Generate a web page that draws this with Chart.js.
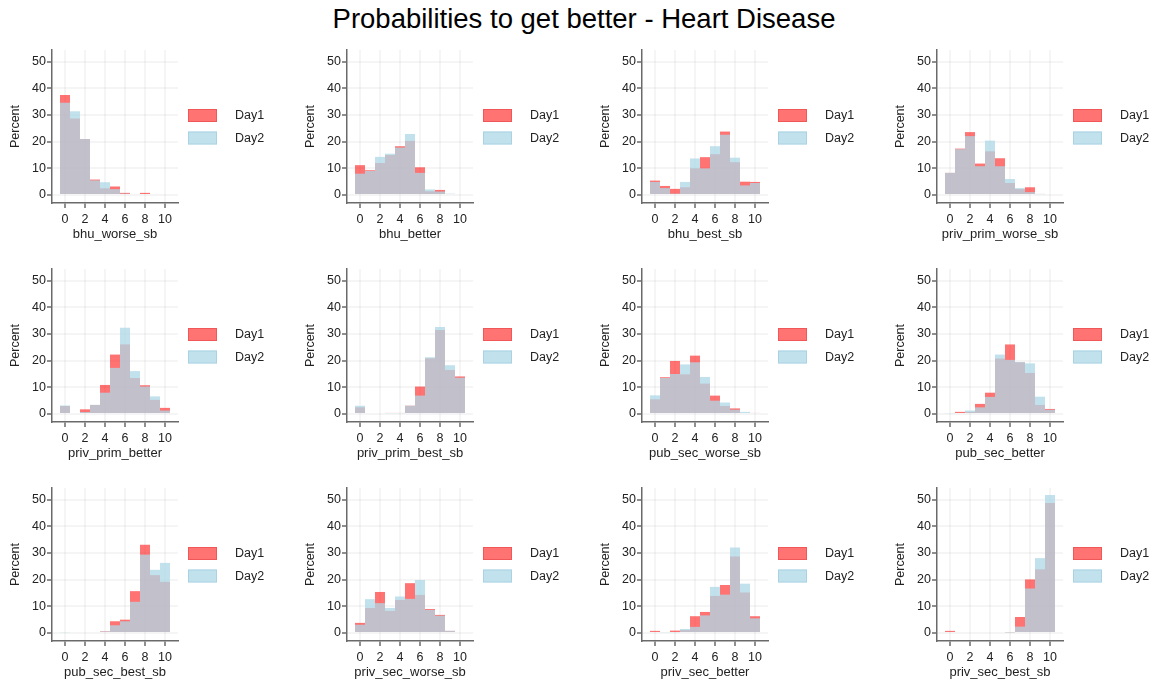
<!DOCTYPE html>
<html>
<head>
<meta charset="utf-8">
<title>Probabilities to get better - Heart Disease</title>
<script src="https://cdn.jsdelivr.net/npm/chart.js@4.4.1/dist/chart.umd.min.js"></script>
<style>
  body { margin: 0; background: #fff; width: 1154px; height: 684px; overflow: hidden; position: relative;
         font-family: "Liberation Sans", Arial, sans-serif; }
  #title { position: absolute; left: 0; top: 3px; width: 1168px; text-align: center; font-size: 27.5px; color: #000; }
  .panel { position: absolute; }
</style>
</head>
<body>
<div id="title">Probabilities to get better - Heart Disease</div>
<script>
// score bins 0..10, percent of respondents per bin
var scores = [0, 1, 2, 3, 4, 5, 6, 7, 8, 9, 10];
var yTicks = [0, 10, 20, 30, 40, 50];
var xTicks = [0, 2, 4, 6, 8, 10];
var seriesNames = ['Day1', 'Day2'];

var bhu_worse_sb_d1 = [37.5, 28.7, 21.0, 5.8, 2.5, 3.2, 0.8, 0, 0.8, 0, 0];
var bhu_worse_sb_d2 = [34.6, 31.4, 21.0, 5.5, 4.8, 2.2, 0.5, 0.4, 0, 0, 0];

var bhu_better_d1 = [11.2, 9.3, 12.0, 15.0, 18.3, 20.3, 10.4, 1.4, 1.9, 0, 0];
var bhu_better_d2 = [8.0, 9.0, 14.3, 15.5, 17.8, 22.9, 8.3, 2.1, 1.3, 0.5, 0];

var bhu_best_sb_d1 = [5.4, 3.4, 2.3, 2.9, 10.0, 14.2, 15.3, 23.8, 12.3, 5.0, 4.9];
var bhu_best_sb_d2 = [4.9, 2.6, 0.5, 4.9, 13.7, 10.0, 18.3, 22.6, 14.0, 3.6, 4.5];

var priv_prim_worse_sb_d1 = [8.3, 17.4, 23.6, 11.8, 16.4, 13.8, 4.5, 2.2, 2.9, 0.4, 0];
var priv_prim_worse_sb_d2 = [8.3, 17.2, 22.1, 10.8, 20.4, 10.8, 6.0, 2.6, 1.1, 0.3, 0];

var priv_prim_better_d1 = [3.0, 0, 1.75, 3.4, 10.9, 22.3, 26.1, 13.5, 10.8, 5.3, 2.3];
var priv_prim_better_d2 = [3.2, 0, 0.75, 3.4, 8.0, 17.3, 32.4, 16.1, 10.3, 6.6, 1.3];

var priv_prim_best_sb_d1 = [2.5, 0, 0, 0.4, 0.4, 3.1, 10.3, 20.9, 31.5, 16.5, 14.1];
var priv_prim_best_sb_d2 = [3.1, 0, 0, 0.3, 0.3, 3.1, 6.9, 21.3, 32.6, 18.3, 13.6];

var pub_sec_worse_sb_d1 = [5.5, 13.8, 19.9, 14.9, 21.9, 11.4, 6.9, 3.0, 2.1, 0, 0.4];
var pub_sec_worse_sb_d2 = [7.0, 13.5, 15.0, 18.6, 19.4, 13.9, 5.0, 4.3, 1.6, 0.8, 0];

var pub_sec_better_d1 = [0, 0.8, 0.8, 3.8, 8.0, 20.8, 26.1, 19.4, 15.4, 3.4, 1.9];
var pub_sec_better_d2 = [0.3, 0, 1.3, 2.5, 6.4, 22.3, 20.3, 19.5, 19.0, 6.5, 1.6];

var pub_sec_best_sb_d1 = [0, 0, 0, 0, 0.6, 4.4, 5.0, 15.7, 33.1, 21.7, 19.2];
var pub_sec_best_sb_d2 = [0.3, 0, 0, 0, 0.6, 2.9, 4.4, 11.7, 29.4, 23.7, 26.3];

var priv_sec_worse_sb_d1 = [3.8, 9.4, 15.4, 8.3, 12.4, 18.7, 14.3, 9.0, 6.8, 0.8, 0];
var priv_sec_worse_sb_d2 = [3.1, 12.7, 11.2, 9.4, 13.7, 12.8, 19.9, 8.7, 6.5, 0.8, 0];

var priv_sec_better_d1 = [0.8, 0, 0.9, 1.1, 6.3, 7.9, 13.9, 18.0, 28.7, 15.2, 6.3];
var priv_sec_better_d2 = [0.4, 0.3, 0.3, 1.5, 2.3, 6.6, 17.3, 14.4, 32.1, 18.5, 5.5];

var priv_sec_best_sb_d1 = [0.8, 0, 0, 0, 0, 0, 0.3, 6.0, 20.1, 23.9, 48.8];
var priv_sec_best_sb_d2 = [0.4, 0, 0, 0, 0, 0, 0.2, 2.4, 16.7, 28.1, 51.8];

var panels = [
    ['bhu_worse_sb', bhu_worse_sb_d1, bhu_worse_sb_d2],
    ['bhu_better', bhu_better_d1, bhu_better_d2],
    ['bhu_best_sb', bhu_best_sb_d1, bhu_best_sb_d2],
    ['priv_prim_worse_sb', priv_prim_worse_sb_d1, priv_prim_worse_sb_d2],
    ['priv_prim_better', priv_prim_better_d1, priv_prim_better_d2],
    ['priv_prim_best_sb', priv_prim_best_sb_d1, priv_prim_best_sb_d2],
    ['pub_sec_worse_sb', pub_sec_worse_sb_d1, pub_sec_worse_sb_d2],
    ['pub_sec_better', pub_sec_better_d1, pub_sec_better_d2],
    ['pub_sec_best_sb', pub_sec_best_sb_d1, pub_sec_best_sb_d2],
    ['priv_sec_worse_sb', priv_sec_worse_sb_d1, priv_sec_worse_sb_d2],
    ['priv_sec_better', priv_sec_better_d1, priv_sec_better_d2],
    ['priv_sec_best_sb', priv_sec_best_sb_d1, priv_sec_best_sb_d2]
];

var fillColors = ['rgba(255, 0, 0, 0.55)', 'rgba(173, 216, 230, 0.76)'];
var edgeColors = ['rgba(230, 60, 60, 0.5)', 'rgba(160, 205, 222, 0.7)'];
var axisColor = '#6a6a6a';
var textColor = '#222222';
var gridColor = 'rgba(0, 0, 0, 0.04)';

Chart.defaults.font.family = '"Liberation Sans", Arial, sans-serif';
Chart.defaults.animation = false;

// legend drawn to the right of each plot, two stacked keys
var sideLegend = {
    id: 'sideLegend',
    afterDraw: function (chart) {
        var ctx = chart.ctx;
        var area = chart.chartArea;
        var cy = (area.top + area.bottom) / 2;
        var x0 = area.right + 10;
        chart.data.datasets.forEach(function (ds, i) {
            var y = cy - 17.5 + i * 22.5;
            ctx.save();
            ctx.fillStyle = ds.backgroundColor;
            ctx.fillRect(x0, y, 29, 13);
            ctx.strokeStyle = ds.borderColor;
            ctx.lineWidth = 1;
            ctx.strokeRect(x0 + 0.5, y + 0.5, 28, 12);
            ctx.fillStyle = '#222';
            ctx.font = '12.5px "Liberation Sans", Arial, sans-serif';
            ctx.textBaseline = 'middle';
            ctx.fillText(ds.label, x0 + 47, y + 7);
            ctx.restore();
        });
    }
};

function toPoints(values) {
    return scores.map(function (s, i) {
        return {x: s, y: values[i]};
    });
}

panels.forEach(function (p, n) {
    var col = n % 4;
    var row = Math.floor(n / 4);

    var canvas = document.createElement('canvas');
    canvas.className = 'panel';
    canvas.width = 295;
    canvas.height = 215;
    canvas.style.left = (col * 295) + 'px';
    canvas.style.top = (40 + row * 219) + 'px';
    document.body.appendChild(canvas);

    new Chart(canvas.getContext('2d'), {
        type: 'bar',
        data: {
            datasets: [p[1], p[2]].map(function (vals, k) {
                return {
                    label: seriesNames[k],
                    data: toPoints(vals),
                    backgroundColor: fillColors[k],
                    borderColor: edgeColors[k],
                    borderWidth: 0,
                    inflateAmount: 0,
                    grouped: false,
                    barPercentage: 1,
                    categoryPercentage: 1,
                    order: 1 - k
                };
            })
        },
        options: {
            responsive: false,
            devicePixelRatio: 1,
            layout: {padding: {left: 8, right: 117, top: 10, bottom: 13}},
            plugins: {legend: {display: false}, tooltip: {enabled: false}},
            scales: {
                x: {
                    type: 'linear',
                    offset: false,
                    min: -1.3,
                    max: 11.3,
                    afterBuildTicks: function (scale) {
                        scale.ticks = xTicks.map(function (v) { return {value: v}; });
                    },
                    ticks: {color: textColor, font: {size: 12.5}, padding: 4, maxRotation: 0, autoSkip: false},
                    grid: {offset: false, color: gridColor, lineWidth: 2, tickColor: axisColor, tickWidth: 1.5, tickLength: 5},
                    border: {color: axisColor, width: 1.5},
                    title: {display: true, text: p[0], color: textColor, font: {size: 13}, padding: 0},
                    afterFit: function (scale) { scale.height = 39; }
                },
                y: {
                    type: 'linear',
                    min: -3,
                    max: 54.4,
                    afterBuildTicks: function (scale) {
                        scale.ticks = yTicks.map(function (v) { return {value: v}; });
                    },
                    ticks: {color: textColor, font: {size: 12.5}, padding: 1},
                    grid: {color: gridColor, lineWidth: 2, tickColor: axisColor, tickWidth: 1.5, tickLength: 5},
                    border: {color: axisColor, width: 1.5},
                    title: {display: true, text: 'Percent', color: textColor, font: {size: 12.5}, padding: 0},
                    afterFit: function (scale) { scale.width = 44; }
                }
            }
        },
        plugins: [sideLegend]
    });
});
</script>
</body>
</html>
